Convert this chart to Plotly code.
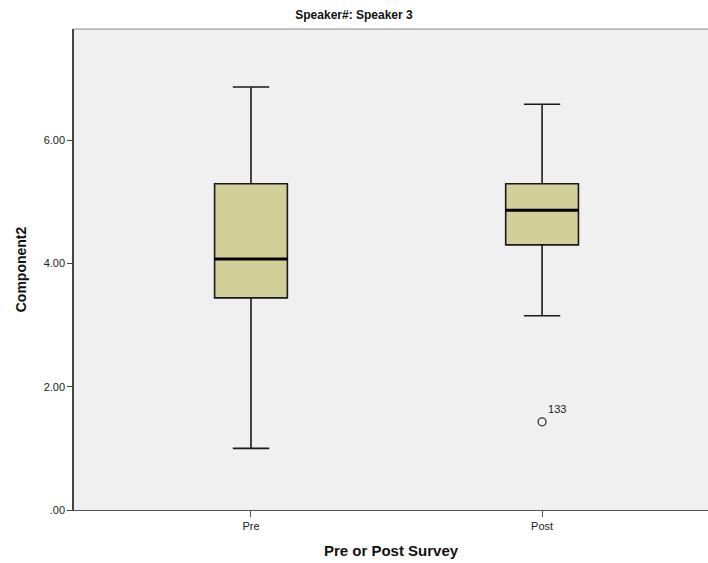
import plotly.graph_objects as go

categories = ["Pre", "Post"]
positions = [0, 1]
lower_whisker = [1.00, 3.15]
q1 = [3.44, 4.30]
median = [4.07, 4.86]
q3 = [5.29, 5.29]
upper_whisker = [6.86, 6.58]
outlier_pos = [1]
outlier_val = [1.43]
outlier_label = ["133"]

y_tickvals = [0, 2, 4, 6]
y_ticktext = [".00", "2.00", "4.00", "6.00"]

box_w = 0.25
fill = "#D3CF98"

fig = go.Figure()
fig.add_trace(go.Box(
    x=positions, q1=q1, median=median, q3=q3,
    lowerfence=lower_whisker, upperfence=upper_whisker,
    width=box_w, whiskerwidth=0.5,
    fillcolor=fill, line=dict(color="#1a1a1a", width=1.6),
    boxpoints=False, showlegend=False, hoverinfo="skip",
))
# thicker median lines
for p, m in zip(positions, median):
    fig.add_trace(go.Scatter(
        x=[p - box_w / 2, p + box_w / 2], y=[m, m], mode="lines",
        line=dict(color="black", width=3), showlegend=False, hoverinfo="skip",
    ))
fig.add_trace(go.Scatter(
    x=outlier_pos, y=outlier_val, mode="markers+text",
    marker=dict(symbol="circle-open", size=8, color="#333333", line=dict(width=1.3)),
    text=outlier_label, textposition="top right",
    textfont=dict(family="Liberation Sans, Arial", size=11, color="#222"),
    showlegend=False, hoverinfo="skip",
))

fig.update_layout(
    width=708, height=563,
    margin=dict(l=74, r=0, t=29, b=53),
    paper_bgcolor="white", plot_bgcolor="#F0F0F0",
    title=dict(text="<b>Speaker#: Speaker 3</b>", x=0.5, xanchor="center", y=1, yanchor="top", pad=dict(t=11),
               font=dict(family="Liberation Sans Narrow, Arial Narrow, Liberation Sans", size=12, color="#111")),
    xaxis=dict(range=[-0.608, 1.57], tickvals=positions, ticktext=categories,
               showgrid=False, zeroline=False, showline=True, linecolor="#555", linewidth=1,
               ticks="outside", ticklen=6, tickcolor="#555",
               tickfont=dict(family="Liberation Sans, Arial", size=11, color="#222"),
               title=dict(text="<b>Pre or Post Survey</b>", standoff=14,
                          font=dict(family="Liberation Sans, Arial", size=15, color="#111"))),
    yaxis=dict(range=[0, 7.8], tickvals=y_tickvals, ticktext=y_ticktext,
               showgrid=False, zeroline=False, showline=True, linecolor="#444", linewidth=1.5,
               ticks="outside", ticklen=5, tickcolor="#444",
               tickfont=dict(family="Liberation Sans, Arial", size=11, color="#222"),
               title=dict(text="<b>Component2</b>", standoff=14,
                          font=dict(family="Liberation Sans, Arial", size=14, color="#111"))),
    shapes=[dict(type="line", xref="paper", yref="paper", x0=0, x1=1, y0=1, y1=1,
                 line=dict(color="#888", width=1))],
)

fig.write_html("out.html", config={"displayModeBar": False},
               post_script="document.body.style.margin='0';document.body.style.overflow='hidden';")
